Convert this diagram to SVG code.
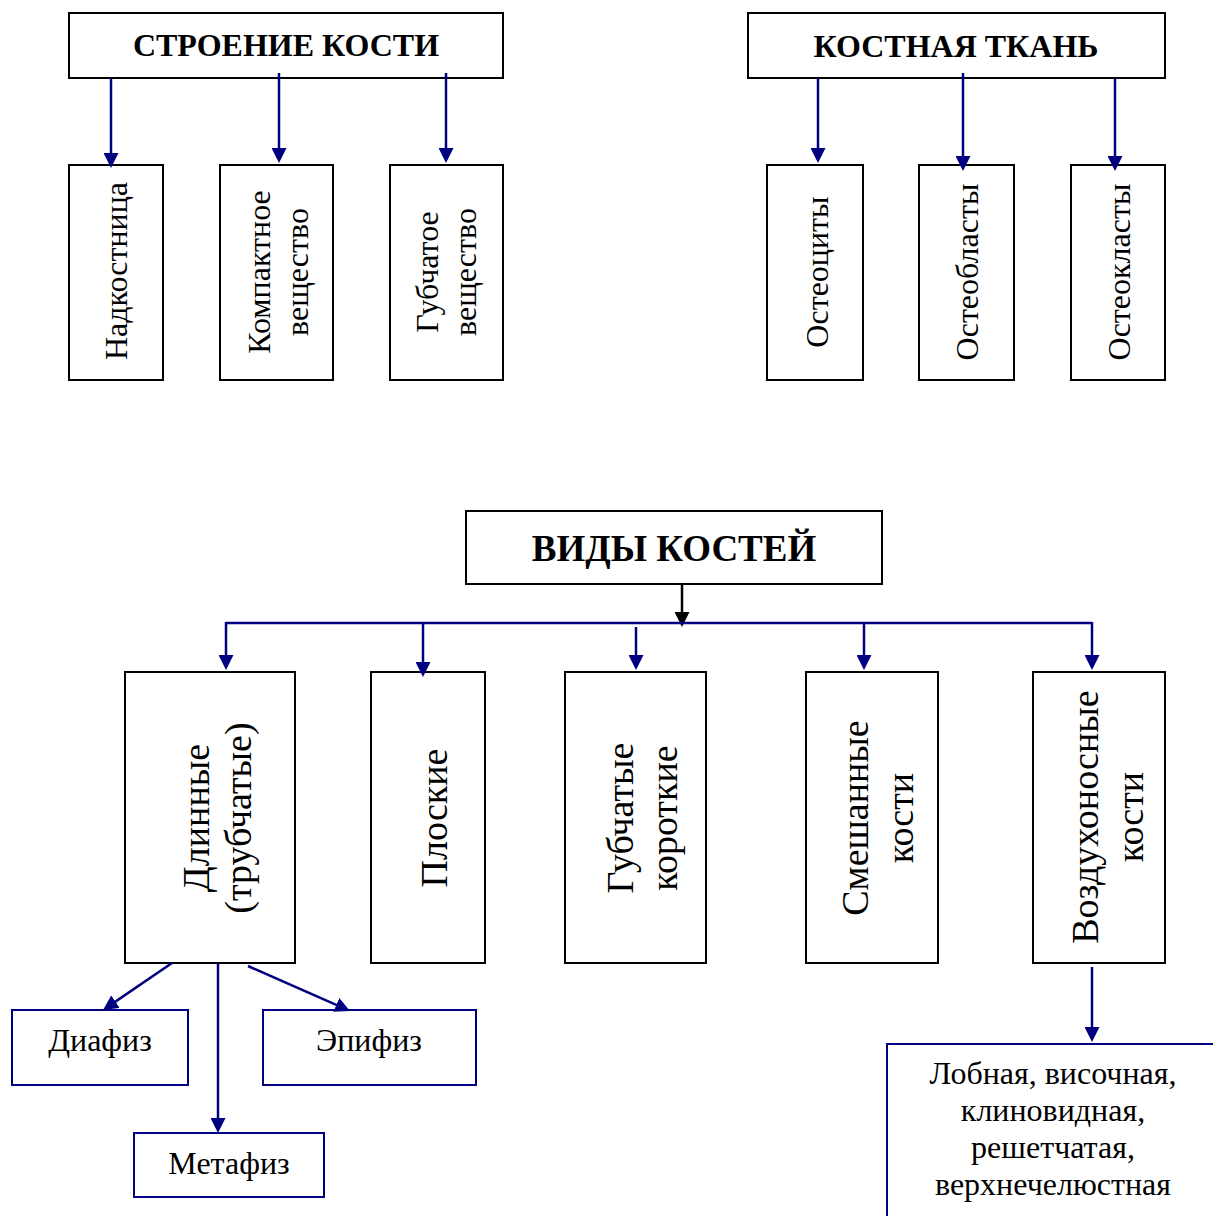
<svg xmlns="http://www.w3.org/2000/svg" width="1213" height="1216" viewBox="0 0 1213 1216">
  <style>
    .box { fill: #ffffff; stroke: #000000; stroke-width: 2; }
    .bbox { fill: #ffffff; stroke: #000080; stroke-width: 2; }
    .hdr { font-family: "Liberation Serif", "Times New Roman", serif; font-weight: bold; fill: #000000; text-anchor: middle; }
    .t32 { font-family: "Liberation Serif", "Times New Roman", serif; font-size: 32px; fill: #000000; text-anchor: middle; }
    .t38 { font-family: "Liberation Serif", "Times New Roman", serif; font-size: 38px; fill: #000000; text-anchor: middle; }
    .con { fill: none; stroke: #000080; stroke-width: 2.5; marker-end: url(#arrBlue); }
    .conk { fill: none; stroke: #000000; stroke-width: 2.5; marker-end: url(#arrBlack); }
    .bus { fill: none; stroke: #000080; stroke-width: 2.5; }
  </style>
  <defs>
    <marker id="arrBlue" markerUnits="userSpaceOnUse" viewBox="0 0 15 15" markerWidth="15" markerHeight="15" refX="8" refY="7.5" orient="auto">
      <path d="M0,0 L15,7.5 L0,15 Z" fill="#000080"/>
    </marker>
    <marker id="arrBlack" markerUnits="userSpaceOnUse" viewBox="0 0 15 15" markerWidth="15" markerHeight="15" refX="8" refY="7.5" orient="auto">
      <path d="M0,0 L15,7.5 L0,15 Z" fill="#000000"/>
    </marker>
  </defs>

  <rect width="1213" height="1216" fill="#ffffff"/>

  <!-- Bone structure -->
  <g id="stroenie">
    <rect class="box" x="69" y="13" width="434" height="65"/>
    <text class="hdr" x="286" y="56" font-size="32">СТРОЕНИЕ КОСТИ</text>
  </g>
  <g id="nadkostnica">
    <rect class="box" x="69" y="165" width="94" height="215"/>
    <text class="t32" transform="rotate(-90 127 271)" x="127" y="271">Надкостница</text>
  </g>
  <g id="kompaktnoe">
    <rect class="box" x="220" y="165" width="113" height="215"/>
    <text class="t32" transform="rotate(-90 270 272)"><tspan x="270" y="272">Компактное</tspan><tspan x="270" y="310">вещество</tspan></text>
  </g>
  <g id="gubchatoe">
    <rect class="box" x="390" y="165" width="113" height="215"/>
    <text class="t32" transform="rotate(-90 438 272)"><tspan x="438" y="272">Губчатое</tspan><tspan x="438" y="310">вещество</tspan></text>
  </g>

  <!-- Bone tissue -->
  <g id="kostnaya-tkan">
    <rect class="box" x="748" y="13" width="417" height="65"/>
    <text class="hdr" x="956" y="57" font-size="32">КОСТНАЯ ТКАНЬ</text>
  </g>
  <g id="osteocity">
    <rect class="box" x="767" y="165" width="96" height="215"/>
    <text class="t32" transform="rotate(-90 828 272)" x="828" y="272">Остеоциты</text>
  </g>
  <g id="osteoblasty">
    <rect class="box" x="919" y="165" width="95" height="215"/>
    <text class="t32" transform="rotate(-90 978 272)" x="978" y="272">Остеобласты</text>
  </g>
  <g id="osteoklasty">
    <rect class="box" x="1071" y="165" width="94" height="215"/>
    <text class="t32" transform="rotate(-90 1130 272)" x="1130" y="272">Остеокласты</text>
  </g>

  <!-- Bone types -->
  <g id="vidy-kostey">
    <rect class="box" x="466" y="511" width="416" height="73"/>
    <text class="hdr" x="674" y="561" font-size="37">ВИДЫ КОСТЕЙ</text>
  </g>
  <g id="dlinnye">
    <rect class="box" x="125" y="672" width="170" height="291"/>
    <text class="t38" transform="rotate(-90 209 818)"><tspan x="209" y="818">Длинные</tspan><tspan x="209" y="860">(трубчатые)</tspan></text>
  </g>
  <g id="ploskie">
    <rect class="box" x="371" y="672" width="114" height="291"/>
    <text class="t38" transform="rotate(-90 447 818)" x="447" y="818">Плоские</text>
  </g>
  <g id="gubchatye-korotkie">
    <rect class="box" x="565" y="672" width="141" height="291"/>
    <text class="t38" transform="rotate(-90 633 818)"><tspan x="633" y="818">Губчатые</tspan><tspan x="633" y="862">короткие</tspan></text>
  </g>
  <g id="smeshannye">
    <rect class="box" x="806" y="672" width="132" height="291"/>
    <text class="t38" transform="rotate(-90 868 818)"><tspan x="868" y="818">Смешанные</tspan><tspan x="868" y="863">кости</tspan></text>
  </g>
  <g id="vozduhonosnye">
    <rect class="box" x="1033" y="672" width="132" height="291"/>
    <text class="t38" transform="rotate(-90 1098 817)"><tspan x="1098" y="817">Воздухоносные</tspan><tspan x="1098" y="862">кости</tspan></text>
  </g>
  <g id="diafiz">
    <rect class="bbox" x="12" y="1010" width="176" height="75"/>
    <text class="t32" x="100" y="1051">Диафиз</text>
  </g>
  <g id="epifiz">
    <rect class="bbox" x="263" y="1010" width="213" height="75"/>
    <text class="t32" x="369" y="1051">Эпифиз</text>
  </g>
  <g id="metafiz">
    <rect class="bbox" x="134" y="1133" width="190" height="64"/>
    <text class="t32" x="229" y="1174">Метафиз</text>
  </g>
  <g id="primery">
    <rect class="bbox" x="887" y="1044" width="340" height="190"/>
    <text class="t32"><tspan x="1053" y="1084">Лобная, височная,</tspan><tspan x="1053" y="1121">клиновидная,</tspan><tspan x="1053" y="1158">решетчатая,</tspan><tspan x="1053" y="1195">верхнечелюстная</tspan></text>
  </g>

  <!-- Connectors -->
  <g id="connectors">
    <line class="con" x1="111" y1="78" x2="111" y2="161"/>
    <line class="con" x1="279" y1="73" x2="279" y2="156"/>
    <line class="con" x1="446" y1="73" x2="446" y2="156"/>

    <line class="con" x1="818" y1="78" x2="818" y2="156"/>
    <line class="con" x1="963" y1="73" x2="963" y2="164"/>
    <line class="con" x1="1115" y1="78" x2="1115" y2="164"/>

    <line class="conk" x1="682" y1="584" x2="682" y2="620"/>
    <line class="bus" x1="226" y1="623" x2="1092" y2="623"/>
    <line class="con" x1="226" y1="622" x2="226" y2="663"/>
    <line class="con" x1="423" y1="623" x2="423" y2="670"/>
    <line class="con" x1="636" y1="627" x2="636" y2="663"/>
    <line class="con" x1="864" y1="623" x2="864" y2="663"/>
    <line class="con" x1="1092" y1="622" x2="1092" y2="663"/>

    <line class="con" x1="172" y1="963" x2="108.8" y2="1006.1"/>
    <line class="con" x1="218" y1="963" x2="218" y2="1126"/>
    <line class="con" x1="248" y1="966" x2="343.6" y2="1008.2"/>
    <line class="con" x1="1092" y1="967" x2="1092" y2="1035"/>
  </g>
</svg>
